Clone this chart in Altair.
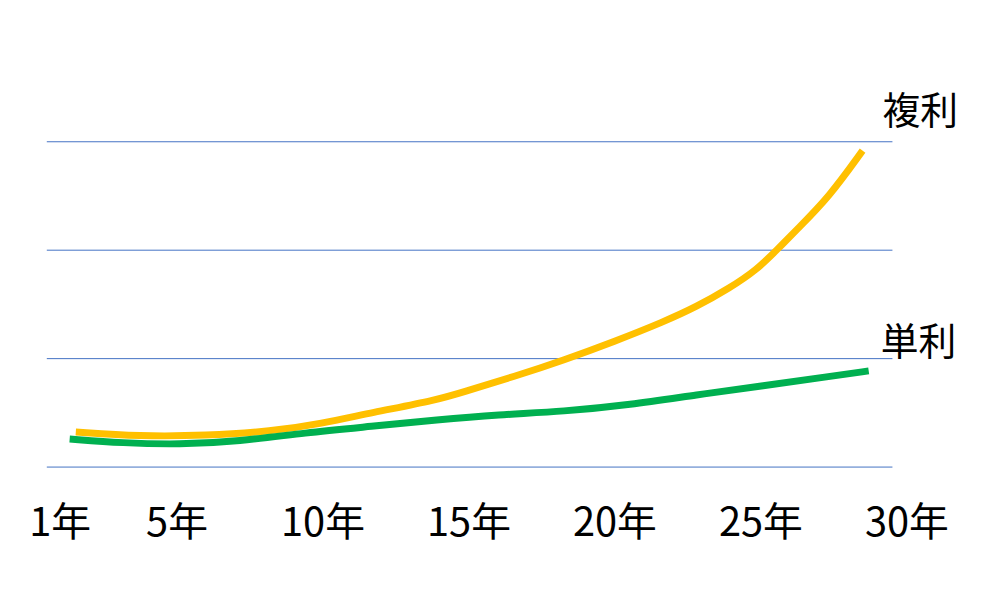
import altair as alt
import pandas as pd

# 単利 (simple interest) curve
simple_years = [1.34, 3.15, 5.09, 7.13, 9.42, 11.67, 13.95, 16.0, 18.28, 20.53, 22.81, 25.1, 27.35, 28.71]
simple_values = [25.9, 22.2, 20.7, 23.7, 31.7, 37.5, 43.7, 48.3, 51.3, 57.4, 66.6, 74.9, 83.5, 88.7]

# 複利 (compound interest) curve
compound_years = [1.55, 3.73, 6.01, 8.26, 9.96, 11.67, 13.95, 14.87, 16.57, 18.28, 19.98,
                  21.69, 22.81, 23.94, 24.86, 25.61, 26.22, 27.35, 28.5]
compound_values = [32.4, 28.3, 29.0, 32.9, 40.0, 50.1, 62.0, 69.7, 83.5, 98.8, 115.6,
                   134.0, 147.8, 165.0, 181.5, 201.5, 218.3, 248.9, 291.8]

tick_years = [1, 5, 10, 15, 20, 25, 30]
grid_values = [0, 100, 200, 300]
series_names = ["単利", "複利"]
series_colors = ["#00B050", "#FFC000"]

simple_df = pd.DataFrame({"year": simple_years, "value": simple_values, "series": series_names[0]})
compound_df = pd.DataFrame({"year": compound_years, "value": compound_values, "series": series_names[1]})
grid_df = pd.DataFrame({"value": grid_values})

FONT = "Noto Sans CJK JP"

x_scale = alt.Scale(domain=[0.557, 30.0], nice=False, zero=False)
y_scale = alt.Scale(domain=[0, 300], nice=False, zero=True)

x_axis = alt.Axis(
    values=tick_years, labelExpr="datum.value + '年'", title=None, grid=False,
    domain=False, ticks=False, labelFont=FONT, labelFontSize=40, labelColor="#000000",
    labelPadding=37, labelFlush=False, labelOverlap=False, labelBound=False,
)

X = alt.X("year:Q", scale=x_scale, axis=x_axis)
Y = alt.Y("value:Q", scale=y_scale, axis=None)

grid = alt.Chart(grid_df).mark_rule(color="#4472C4", strokeWidth=1).encode(
    y=Y, x=alt.value(0), x2=alt.value(850)
)


def line_layer(df, color):
    return alt.Chart(df).mark_line(
        strokeWidth=7, color=color, interpolate="basis", clip=False
    ).encode(x=X, y=Y)


def end_label(df, name, dx, dy):
    last = df.tail(1).assign(label=name)
    return alt.Chart(last).mark_text(
        font=FONT, fontSize=38, color="#000000", align="center", baseline="middle",
        dx=dx, dy=dy, clip=False,
    ).encode(x=X, y=Y, text="label:N")


chart = alt.layer(
    grid,
    line_layer(compound_df, series_colors[1]),
    line_layer(simple_df, series_colors[0]),
    end_label(compound_df, series_names[1], 58, -38),
    end_label(simple_df, series_names[0], 50, -27),
).properties(
    width=864,
    height=327,
    autosize="none",
    padding={"left": 39, "top": 133, "right": 70, "bottom": 100},
    background="#FFFFFF",
).configure_view(stroke=None)

chart.save("out.html", embed_options={"renderer": "svg", "actions": False})
